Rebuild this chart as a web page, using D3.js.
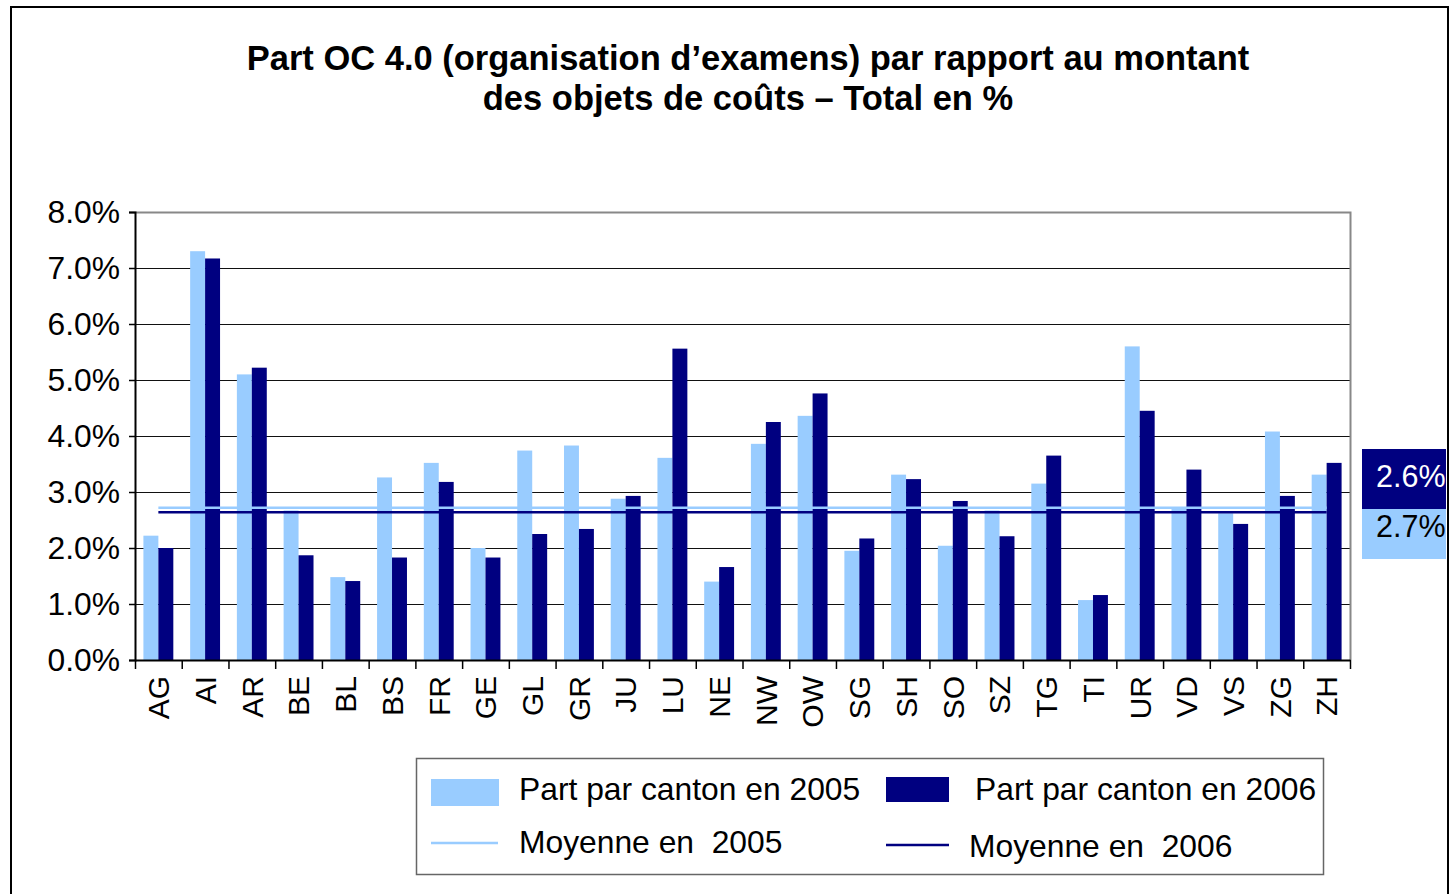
<!DOCTYPE html>
<html>
<head>
<meta charset="utf-8">
<script src="https://cdn.jsdelivr.net/npm/d3@7"></script>
<style>
  body { margin: 0; background: #fff; }
  text { font-family: Arial, "Liberation Sans", sans-serif; }
</style>
</head>
<body>
<div id="chart"></div>
<script>
// data (values in %)
var cantons = ["AG", "AI", "AR", "BE", "BL", "BS", "FR", "GE", "GL", "GR", "JU", "LU", "NE",
    "NW", "OW", "SG", "SH", "SO", "SZ", "TG", "TI", "UR", "VD", "VS", "ZG", "ZH"];
var part2005 = [2.22, 7.30, 5.10, 2.67, 1.48, 3.26, 3.52, 2.00, 3.74, 3.83, 2.88, 3.61, 1.40,
    3.86, 4.36, 1.95, 3.31, 2.04, 2.67, 3.15, 1.07, 5.60, 2.71, 2.62, 4.08, 3.31];
var part2006 = [2.00, 7.17, 5.22, 1.87, 1.41, 1.83, 3.18, 1.83, 2.25, 2.34, 2.93, 5.56, 1.66,
    4.25, 4.76, 2.17, 3.23, 2.84, 2.21, 3.65, 1.16, 4.45, 3.40, 2.43, 2.93, 3.52];
var mean2005 = 2.72;
var mean2006 = 2.64;
var yTicks = [0, 1, 2, 3, 4, 5, 6, 7, 8];
var titleLines = ["Part OC 4.0 (organisation d\u2019examens) par rapport au montant",
    "des objets de co\u00fbts \u2013 Total en %"];
var legendLabels = ["Part par canton en 2005", "Part par canton en 2006",
    "Moyenne en  2005", "Moyenne en  2006"];

var light = "#99ccff", dark = "#000080";

var W = 1450, H = 894;
var plot = {left: 135, right: 1350, top: 212, bottom: 660};

var svg = d3.select("#chart")
    .append("svg")
    .attr("width", W)
    .attr("height", H);

// outer frame
svg.append("rect")
    .attr("x", 11).attr("y", 7)
    .attr("width", 1437).attr("height", 920)
    .style("fill", "none")
    .style("stroke", "#000")
    .style("stroke-width", 2);

// title
svg.append("g").selectAll("text")
    .data(titleLines)
    .enter()
    .append("text")
    .attr("x", 748)
    .attr("y", function (d, i) { return 70 + i * 40; })
    .attr("text-anchor", "middle")
    .style("font-size", "34.5px")
    .style("font-weight", "bold")
    .text(function (d) { return d; });

// scales
var y = d3.scaleLinear()
    .domain([0, 8])
    .range([plot.bottom, plot.top]);

var x0 = d3.scaleBand()
    .domain(cantons)
    .range([plot.left, plot.right])
    .paddingInner(0.36)
    .paddingOuter(0.18);

var x1 = d3.scaleBand()
    .domain(["2005", "2006"])
    .range([0, x0.bandwidth()]);

var xIdx = d3.scaleLinear()
    .domain([0, cantons.length])
    .range([plot.left, plot.right]);

// gridlines
svg.append("g").selectAll("line")
    .data(yTicks.slice(1, -1))
    .enter()
    .append("line")
    .attr("x1", plot.left).attr("x2", plot.right)
    .attr("y1", function (d) { return Math.round(y(d)) + 0.5; })
    .attr("y2", function (d) { return Math.round(y(d)) + 0.5; })
    .style("stroke", "#111")
    .style("stroke-width", 1.2);

// plot frame top and right (grey)
svg.append("path")
    .attr("d", "M" + plot.left + "," + (plot.top + 0.5) + "H" + (plot.right + 0.5) + "V" + plot.bottom)
    .style("fill", "none")
    .style("stroke", "#888")
    .style("stroke-width", 2);

// bars
var groups = svg.append("g").selectAll("g")
    .data(cantons)
    .enter()
    .append("g")
    .attr("transform", function (d) { return "translate(" + x0(d) + ",0)"; });

groups.append("rect")
    .attr("x", x1("2005"))
    .attr("width", x1.bandwidth())
    .attr("y", function (d, i) { return y(part2005[i]); })
    .attr("height", function (d, i) { return y(0) - y(part2005[i]); })
    .style("fill", light);

groups.append("rect")
    .attr("x", x1("2006"))
    .attr("width", x1.bandwidth())
    .attr("y", function (d, i) { return y(part2006[i]); })
    .attr("height", function (d, i) { return y(0) - y(part2006[i]); })
    .style("fill", dark);

// mean lines, from first to last category centre
var xFirst = x0(cantons[0]) + x0.bandwidth() / 2;
var xLast = x0(cantons[cantons.length - 1]) + x0.bandwidth() / 2;

svg.append("line")
    .attr("x1", xFirst).attr("x2", xLast)
    .attr("y1", y(mean2005)).attr("y2", y(mean2005))
    .style("stroke", light)
    .style("stroke-width", 2.5);

svg.append("line")
    .attr("x1", xFirst).attr("x2", xLast)
    .attr("y1", y(mean2006)).attr("y2", y(mean2006))
    .style("stroke", dark)
    .style("stroke-width", 2.5);

// Y axis
var yAxis = svg.append("g")
    .attr("transform", "translate(" + plot.left + ",0)")
    .call(d3.axisLeft(y)
        .tickValues(yTicks)
        .tickSize(6)
        .tickPadding(9)
        .tickFormat(function (d) { return d.toFixed(1) + "%"; }));
yAxis.select(".domain").style("stroke", "#000").style("stroke-width", 2);
yAxis.selectAll(".tick line").style("stroke", "#000").style("stroke-width", 1.5);
yAxis.selectAll("text")
    .style("font-size", "31.8px")
    .style("fill", "#000")
    .style("font-family", "Arial, 'Liberation Sans', sans-serif");

// X axis: tick marks at category boundaries
var xAxis = svg.append("g")
    .attr("transform", "translate(0," + plot.bottom + ")")
    .call(d3.axisBottom(xIdx)
        .tickValues(d3.range(cantons.length + 1))
        .tickSize(9)
        .tickSizeOuter(0)
        .tickFormat(""));
xAxis.select(".domain").style("stroke", "#000").style("stroke-width", 2);
xAxis.selectAll(".tick line").style("stroke", "#000").style("stroke-width", 1.5);

// category labels, rotated
svg.append("g").selectAll("text")
    .data(cantons)
    .enter()
    .append("text")
    .attr("transform", function (d) {
        return "translate(" + (x0(d) + x0.bandwidth() / 2) + "," + (plot.bottom + 16) + ") rotate(-90)";
    })
    .attr("dy", "0.36em")
    .attr("text-anchor", "end")
    .style("font-size", "30px")
    .text(function (d) { return d; });

// mean value labels on the right
var split = Math.round(y(mean2005)) + 1;
svg.append("rect")
    .attr("x", 1362).attr("y", split - 60)
    .attr("width", 84).attr("height", 60)
    .style("fill", dark);
svg.append("rect")
    .attr("x", 1362).attr("y", split)
    .attr("width", 84).attr("height", 50)
    .style("fill", light);
svg.append("text")
    .attr("x", 1376).attr("y", split - 22)
    .style("font-size", "30.5px")
    .style("fill", "#fff")
    .text(mean2006.toFixed(1) + "%");
svg.append("text")
    .attr("x", 1376).attr("y", split + 28)
    .style("font-size", "30.5px")
    .style("fill", "#000")
    .text(mean2005.toFixed(1) + "%");

// legend
var legend = svg.append("g");
legend.append("rect")
    .attr("x", 416.5).attr("y", 758.5)
    .attr("width", 907).attr("height", 116)
    .style("fill", "#fff")
    .style("stroke", "#666")
    .style("stroke-width", 1.5);

legend.append("rect")
    .attr("x", 431).attr("y", 779).attr("width", 68).attr("height", 27)
    .style("fill", light);
legend.append("rect")
    .attr("x", 886).attr("y", 777).attr("width", 63).attr("height", 25)
    .style("fill", dark);
legend.append("line")
    .attr("x1", 431).attr("x2", 498).attr("y1", 843).attr("y2", 843)
    .style("stroke", light).style("stroke-width", 2.5);
legend.append("line")
    .attr("x1", 886).attr("x2", 949).attr("y1", 845).attr("y2", 845)
    .style("stroke", dark).style("stroke-width", 2.5);

var legendPos = [[519, 800], [975, 800], [519, 853], [969, 857]];
legend.selectAll("text.lbl")
    .data(legendLabels)
    .enter()
    .append("text")
    .attr("class", "lbl")
    .attr("x", function (d, i) { return legendPos[i][0]; })
    .attr("y", function (d, i) { return legendPos[i][1]; })
    .style("font-size", "31.8px")
    .style("white-space", "pre")
    .text(function (d) { return d; });
</script>
</body>
</html>
